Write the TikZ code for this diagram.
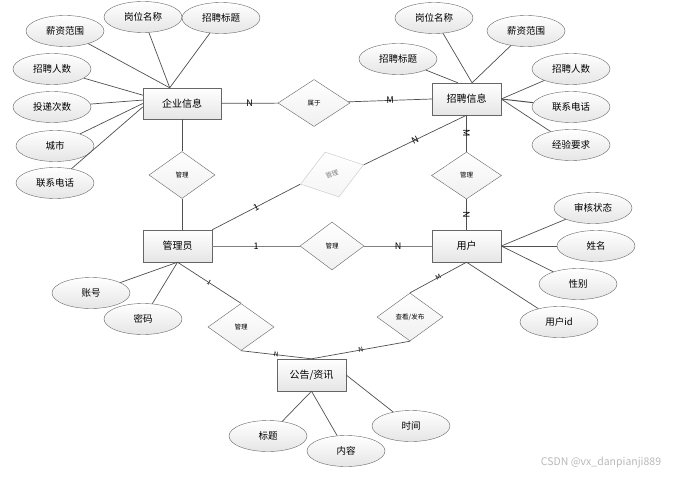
\documentclass[tikz,border=0pt]{standalone}
\usepackage{fontspec}
\usepackage{tikz}
\usetikzlibrary{shapes.geometric}
\newfontfamily\cjk{Noto Sans CJK SC}
\definecolor{linecolor}{HTML}{505050}
\definecolor{bordercolor}{HTML}{666666}
\colorlet{shadecolor}{gray!20}
\colorlet{fadecolor}{gray!45}
\tikzstyle{entity} = [
    draw=bordercolor,
    rectangle,
    top color=white,
    bottom color=shadecolor,
    minimum width=69pt,
    minimum height=32pt,
    font=\cjk\fontsize{10}{12}\selectfont
    ]
\tikzstyle{attr} = [
    draw=bordercolor,
    ellipse,
    top color=white,
    bottom color=shadecolor,
    minimum width=78pt,
    minimum height=31pt,
    inner sep=0pt,
    font=\cjk\fontsize{9.5}{11}\selectfont
    ]
\tikzstyle{rel} = [
    draw=bordercolor,
    diamond,
    top color=white,
    bottom color=gray!12,
    minimum width=66pt,
    minimum height=47pt,
    inner sep=0pt,
    font=\cjk\fontsize{6.5}{8}\selectfont
    ]
\tikzstyle{link} = [draw=linecolor, line width=0.7pt]
\tikzstyle{card} = [midway, sloped, inner sep=0.5pt, font=\cjk\fontsize{9}{10}\selectfont]
\tikzstyle{smallcard} = [card, font=\cjk\fontsize{6.5}{7}\selectfont]

\begin{document}
\begin{tikzpicture}[x=1pt, y=-1pt]
\path[use as bounding box, fill=white] (0,0) rectangle (679,476);

% entities
\node[entity, minimum width=78pt, minimum height=31pt] (qyxx) at (182,103.5) {企业信息};
\node[entity] (zpxx) at (466.5,99) {招聘信息};
\node[entity] (gly) at (177.5,246) {管理员};
\node[entity] (yh) at (466.5,246) {用户};
\node[entity] (gg) at (311.5,375) {公告/资讯};

% relations
\node[rel, minimum width=72pt] (shuyu) at (314,103) {属于};
\node[rel] (gl1) at (182,175) {管理};
\node[rel, minimum width=70pt] (gl2) at (466.5,175.5) {管理};
\node[rel, minimum width=64pt, minimum height=48pt] (gl3) at (332,246) {管理};
\node[rel] (gl4) at (241,327) {管理};
\node[rel, minimum height=48pt] (ck) at (410,317) {查看/发布};
\node[rel, rotate=17, draw=fadecolor, text=gray, bottom color=gray!8] (gl5) at (332,174.5) {管理};

% attributes
\node[attr] (q1) at (65,31) {薪资范围};
\node[attr] (q2) at (143,17) {岗位名称};
\node[attr] (q3) at (221,18) {招聘标题};
\node[attr] (q4) at (52,69) {招聘人数};
\node[attr] (q5) at (52,107) {投递次数};
\node[attr] (q6) at (55,146) {城市};
\node[attr] (q7) at (55,183) {联系电话};

\node[attr] (z1) at (434,18) {岗位名称};
\node[attr] (z2) at (526,31) {薪资范围};
\node[attr] (z3) at (398,59) {招聘标题};
\node[attr] (z4) at (571,69) {招聘人数};
\node[attr] (z5) at (571,107) {联系电话};
\node[attr] (z6) at (571,145) {经验要求};

\node[attr] (y1) at (593,208) {审核状态};
\node[attr] (y2) at (596,246) {姓名};
\node[attr] (y3) at (578,284) {性别};
\node[attr] (y4) at (559,322) {用户id};

\node[attr] (g1) at (91,293) {账号};
\node[attr] (g2) at (143,319) {密码};

\node[attr] (n1) at (268,436) {标题};
\node[attr] (n2) at (346,451) {内容};
\node[attr] (n3) at (411,426) {时间};

\node[font=\cjk\fontsize{10.5}{12}\selectfont, text=gray!55] (csdn) at (601,463) {CSDN @vx\_danpianji889};

% attribute links
\draw[link] (q1) -- (qyxx.128);
\draw[link] (q2) -- (qyxx.128);
\draw[link] (q3) -- (qyxx.128);
\draw[link] (q4) -- (qyxx.168);
\draw[link] (q5) -- (qyxx.175);
\draw[link] (q6) -- (qyxx.180);
\draw[link] (q7) -- (qyxx.185);

\draw[link] (z3) -- (zpxx.118);
\draw[link] (z1) -- (zpxx.71);
\draw[link] (z2) -- (zpxx.71);
\draw[link] (z4) -- (zpxx.east);
\draw[link, line width=1pt] (z5) -- (zpxx.east);
\draw[link] (z6) -- (zpxx.east);

\draw[link] (y1) -- (yh.east);
\draw[link] (y2) -- (yh.east);
\draw[link] (y3) -- (yh.east);
\draw[link] (y4) -- (yh.south);

\draw[link] (g1) -- (gly.south);
\draw[link] (g2) -- (gly.south);

\draw[link] (n1) -- (gg.south);
\draw[link] (n2) -- (gg.south);
\draw[link] (n3) -- (gg.east);

% relation links
\draw[link] (qyxx) -- node[card]{N} (shuyu);
\draw[link] (shuyu) -- node[card]{M} (zpxx.west);
\draw[link] (qyxx) -- (gl1);
\draw[link] (gl1.south) -- (gl1.south |- gly.north);
\draw[link] (zpxx) -- node[card]{M} (gl2);
\draw[link] (gl2) -- node[card]{N} (yh);
\draw[link, draw=gray, line width=1pt] (gly) -- node[card]{1} (gl3);
\draw[link, draw=gray, line width=1pt] (gl3) -- node[card]{N} (yh);
\draw[link] (gly.north east) -- node[card]{1} (gl5.west);
\draw[link] (gl5.east) -- node[card]{N} (zpxx.south);
\draw[link] (gly.south) -- node[smallcard]{1} (gl4.north);
\draw[link] (gl4.south) -- node[smallcard]{N} (gg.north);
\draw[link] (gg.north) -- node[smallcard]{N} (ck.south);
\draw[link] (ck.north) -- node[smallcard]{M} (yh.south);
\end{tikzpicture}
\end{document}
